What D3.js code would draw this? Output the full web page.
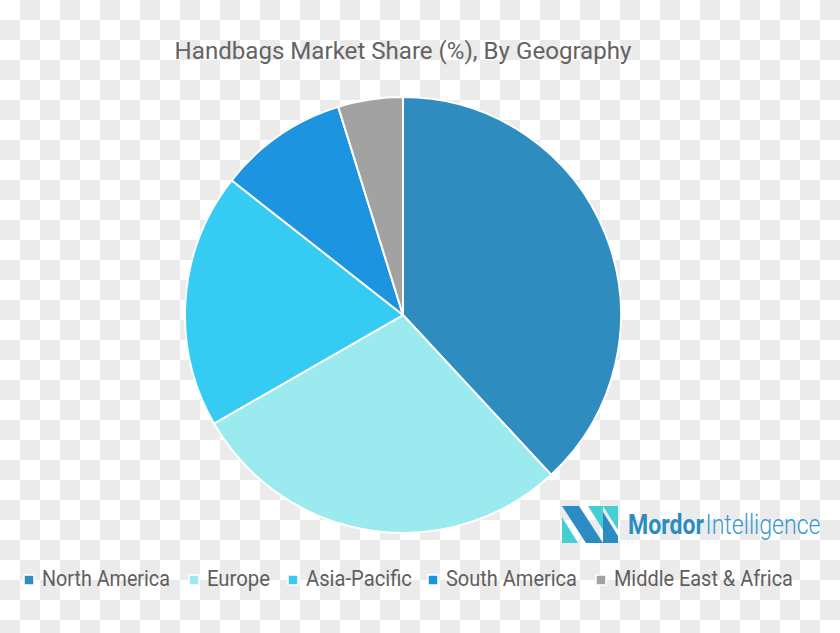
<!DOCTYPE html>
<html>
<head>
<meta charset="utf-8">
<script src="https://cdn.jsdelivr.net/npm/d3@7"></script>
<style>
	html, body { margin: 0; padding: 0; }
	svg { display: block; }
</style>
</head>
<body>
<svg id="chart"></svg>
<script>
	var regions = ["North America", "Europe", "Asia-Pacific", "South America", "Middle East & Africa"];
	var shares = [38.1, 28.6, 18.9, 9.6, 4.8];
	var colors = ["#2e8cbe", "#9aeaf0", "#36cbf3", "#1c94df", "#a2a2a2"];
	var legendWidths = [128, 63, 106, 131, 179]; // text widths in px

	var width = 840, height = 633;
	var svg = d3.select("#chart").attr("width", width).attr("height", height);

	// squeeze a text horizontally so it looks like the condensed font of the original
	function fitWidth(sel, x, y, target) {
		var len = sel.node().getComputedTextLength();
		var s = target / len;
		sel.attr("x", 0).attr("y", 0)
			.attr("transform", "translate(" + x + "," + y + ") scale(" + s + ",1)");
	}

	// checkerboard background (transparent png look)
	var cell = 20;
	var cells = [];
	for (var r = 0; r < Math.ceil(height / cell); r++) {
		for (var c = 0; c < Math.ceil(width / cell); c++) {
			cells.push({r: r, c: c});
		}
	}
	svg.append("g").selectAll("rect").data(cells).enter().append("rect")
		.attr("x", function(d) { return d.c * cell; })
		.attr("y", function(d) { return d.r * cell; })
		.attr("width", cell).attr("height", cell)
		.attr("fill", function(d) { return (d.r + d.c) % 2 ? "#ebebeb" : "#ffffff"; });

	// title
	var title = svg.append("text")
		.attr("text-anchor", "middle")
		.style("font-family", "Roboto, sans-serif")
		.style("font-size", "23px")
		.style("fill", "#636363")
		.text("Handbags Market Share (%), By Geography");
	fitWidth(title, 403, 59, 457);

	// PIE
	var cx = 403, cy = 315, radius = 218;
	var pie = d3.pie().sort(null).value(function(d) { return d; });
	var arc = d3.arc().innerRadius(0).outerRadius(radius);

	svg.append("g")
		.attr("transform", "translate(" + cx + "," + cy + ")")
		.selectAll("path")
		.data(pie(shares))
		.enter().append("path")
		.attr("d", arc)
		.attr("fill", function(d, i) { return colors[i]; })
		.attr("stroke", "#ffffff")
		.attr("stroke-width", 2);

	// LEGEND
	var legendX = [24, 189, 288, 428, 596];
	var legend = svg.append("g");
	var items = legend.selectAll("g").data(regions).enter().append("g")
		.attr("transform", function(d, i) { return "translate(" + legendX[i] + ",0)"; });

	items.append("rect")
		.attr("x", 0).attr("y", 575)
		.attr("width", 10).attr("height", 10)
		.attr("fill", function(d, i) { return colors[i]; })
		.attr("stroke", "#ffffff").attr("stroke-width", 1.5);

	items.append("text")
		.style("font-family", "Roboto, sans-serif")
		.style("font-size", "22px")
		.style("fill", "#5f5f5f")
		.text(function(d) { return d; })
		.each(function(d, i) { fitWidth(d3.select(this), 18, 586, legendWidths[i]); });

	// logo
	var logo = svg.append("g");
	var dark = "#2b8bc3", teal = "#45cfd3";
	var shapes = [
		{fill: teal, pts: [[562, 517], [562, 543], [578, 543]]},
		{fill: dark, pts: [[562, 506], [579, 506], [603, 543], [586, 543]]},
		{fill: teal, pts: [[588, 506], [603, 506], [603, 530]]},
		{fill: teal, pts: [[603, 506], [618, 506], [618, 530]]},
		{fill: dark, pts: [[603, 512], [618, 536], [618, 543], [603, 543]]}
	];
	logo.selectAll("polygon").data(shapes).enter().append("polygon")
		.attr("points", function(d) { return d.pts.join(" "); })
		.attr("fill", function(d) { return d.fill; });

	var brand = logo.append("text")
		.style("font-family", "Roboto, sans-serif")
		.style("font-size", "28px");
	brand.append("tspan")
		.style("font-weight", "bold")
		.style("fill", dark)
		.text("Mordor");
	brand.append("tspan")
		.attr("dx", 2)
		.style("font-weight", 300)
		.style("fill", "#3997cf")
		.text("Intelligence");
	fitWidth(brand, 628, 534, 191);
</script>
</body>
</html>
